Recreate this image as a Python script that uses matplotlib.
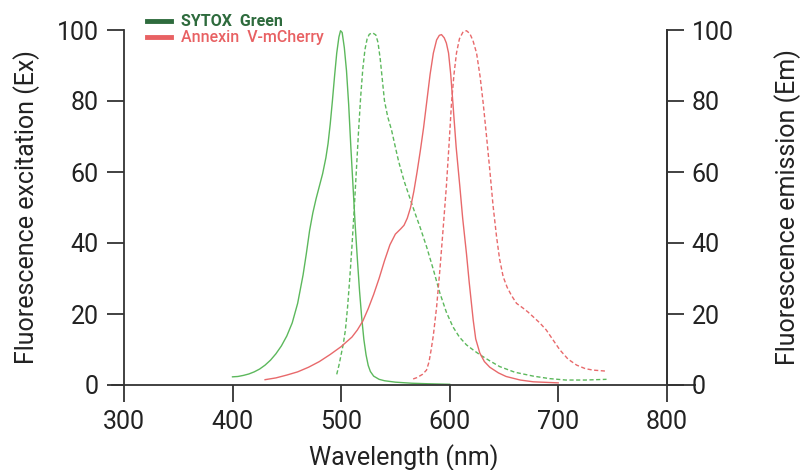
import matplotlib
matplotlib.use("Agg")
import matplotlib.pyplot as plt
from matplotlib.lines import Line2D

plt.rcParams["font.family"] = ["Roboto", "DejaVu Sans"]

# SYTOX Green excitation (solid)
sytox_ex_nm = [400, 405, 410, 415, 420, 425, 430, 435, 440, 445, 450, 455, 460, 465, 468, 471, 474,
               477, 480, 483, 486, 488, 490, 492, 494, 496, 498, 499.5, 501, 503, 505, 507, 509, 511,
               513, 515, 517, 519, 521, 523, 525, 527, 530, 535, 540, 550, 565, 580, 600]
sytox_ex_val = [2.3, 2.4, 2.7, 3.1, 3.7, 4.5, 5.6, 7.0, 8.8, 11.0, 13.8, 17.5, 23.0, 31.0, 37.0, 43.5, 48.5,
                52.5, 56.0, 59.5, 64.0, 68.0, 73.5, 80.0, 87.0, 93.5, 98.0, 99.8, 99.3, 95.0, 88.5, 79.0, 67.0, 56.0,
                45.0, 35.5, 26.5, 19.0, 12.8, 8.5, 5.5, 3.8, 2.5, 1.6, 1.2, 0.8, 0.5, 0.35, 0.2]

# SYTOX Green emission (dashed)
sytox_em_nm = [496, 498, 500, 502, 504, 506, 508, 510, 512, 514, 516, 518, 520, 522, 524, 526, 529, 532,
               534, 536, 538, 540, 543, 546.5, 550, 553, 558, 563, 568, 572.6, 578.7, 585, 591, 597, 603,
               609, 615.5, 622, 628, 637, 646, 660, 677, 692, 707, 725, 744.5]
sytox_em_val = [3.0, 5.5, 8.5, 11.5, 15.5, 22.0, 30.0, 39.0, 49.0, 60.0, 71.0, 81.0, 89.0, 94.5, 97.5, 98.8, 99.2, 98.6,
                96.5, 92.0, 86.0, 80.0, 75.5, 71.8, 67.0, 63.0, 57.5, 53.0, 48.5, 44.6, 39.0, 32.5, 25.9, 20.5, 16.4,
                13.5, 11.3, 9.8, 8.5, 6.8, 5.2, 3.6, 2.5, 1.8, 1.4, 1.4, 1.6]

# Annexin V-mCherry excitation (solid)
mch_ex_nm = [430, 440, 450, 460, 470, 480, 490, 500, 510, 515, 520, 525, 530, 535, 540, 545, 550, 555,
             558, 561, 564, 567, 570, 573, 576, 579, 582, 585, 588, 590.5, 592.5, 595, 597, 599, 601, 603,
             606, 609.4, 612, 615.5, 618, 621.7, 624, 627.8, 632, 637, 645, 652, 665, 677, 700]
mch_ex_val = [1.5, 2.0, 2.8, 3.7, 5.0, 6.6, 8.6, 10.8, 13.5, 15.5, 18.0, 21.5, 25.5, 30.0, 35.0, 39.5, 42.5, 44.0,
              45.0, 47.0, 50.0, 54.5, 60.0, 66.0, 72.5, 80.0, 87.5, 93.5, 97.2, 98.5, 98.7, 97.8, 96.3, 93.5, 87.5, 79.4,
              67.0, 55.9, 47.0, 37.0, 29.0, 18.3, 13.0, 9.0, 6.6, 5.0, 3.4, 2.4, 1.4, 0.9, 0.6]

# Annexin V-mCherry emission (dashed)
mch_em_nm = [566.4, 570, 575, 578.7, 581, 583, 585, 588, 591, 594, 597, 599.5, 601.7, 604, 606.3, 609, 612.4,
             615.5, 618.6, 621.5, 624.8, 628, 630.9, 634, 637, 640, 643.2, 646, 649.3, 653, 657, 661.6, 667,
             672, 677, 683, 689, 695, 701.5, 709, 717, 725, 732, 744.5]
mch_em_val = [1.7, 2.1, 3.0, 4.2, 6.5, 10.0, 14.0, 22.0, 32.4, 44.0, 56.0, 68.0, 79.4, 87.5, 93.5, 97.5, 99.5,
              99.8, 99.0, 97.0, 93.5, 87.0, 79.4, 70.0, 60.5, 50.5, 41.8, 35.5, 30.5, 27.5, 25.2, 23.0, 21.8,
              20.6, 19.2, 17.5, 15.5, 12.8, 9.9, 7.3, 5.6, 4.6, 4.2, 3.9]

green = "#5cb85c"
red = "#e8696b"
legend_green = "#2e6b3d"
legend_red = "#e86163"
axis_col = "#333333"
text_col = "#222222"

fig = plt.figure(figsize=(8.01, 4.70), dpi=100)
ax = fig.add_axes([112 / 801, 85 / 470, 583 / 801, 355 / 470])

ax.plot(sytox_ex_nm, sytox_ex_val, color=green, lw=1.0)
ax.plot(sytox_em_nm, sytox_em_val, color=green, lw=1.0, ls=(0, (3, 1.8)))
ax.plot(mch_ex_nm, mch_ex_val, color=red, lw=1.0)
ax.plot(mch_em_nm, mch_em_val, color=red, lw=1.0, ls=(0, (3, 1.8)))

ax.set_xlim(289, 826)
ax.set_ylim(0, 100)

ax.spines["left"].set_position(("data", 300))
ax.spines["right"].set_position(("data", 800))
ax.spines["top"].set_visible(False)
for s in ax.spines.values():
    s.set_color(axis_col)
    s.set_linewidth(1.3)

ax.set_xticks([300, 400, 500, 600, 700, 800])
ax.set_yticks([0, 20, 40, 60, 80, 100])
ax.tick_params(axis="both", direction="out", length=12, width=1.3, color=axis_col,
               labelsize=18, labelcolor=text_col, pad=6)

ax.set_xlabel("Wavelength (nm)", fontsize=18, color=text_col, labelpad=7)
ax.set_ylabel("Fluorescence excitation (Ex)", fontsize=18, color=text_col, labelpad=12)

ax2 = ax.twinx()
ax2.set_ylim(0, 100)
ax2.spines["right"].set_position(("data", 800))
for s in ["left", "top", "bottom"]:
    ax2.spines[s].set_visible(False)
ax2.spines["right"].set_color(axis_col)
ax2.spines["right"].set_linewidth(1.3)
ax2.set_yticks([0, 20, 40, 60, 80, 100])
ax2.tick_params(axis="y", direction="out", length=12, width=1.3, color=axis_col,
                labelsize=18, labelcolor=text_col, pad=6)
ax2.set_ylabel("Fluorescence emission (Em)", fontsize=18, color=text_col, labelpad=29)

handles = [Line2D([], [], color=legend_green, lw=3.5),
           Line2D([], [], color=legend_red, lw=3.5)]
leg = ax.legend(handles, ["SYTOX  Green", "Annexin  V-mCherry"], loc="upper left",
                bbox_to_anchor=(29 / 583, 1 + 22 / 355), frameon=False, fontsize=11.5,
                handlelength=1.5, handletextpad=0.6, labelspacing=0.05, borderaxespad=0)
leg.get_texts()[0].set_color(legend_green)
leg.get_texts()[0].set_fontweight("bold")
leg.get_texts()[1].set_color(legend_red)
leg.get_texts()[1].set_fontweight("medium")

fig.savefig("out.png", dpi=100)
